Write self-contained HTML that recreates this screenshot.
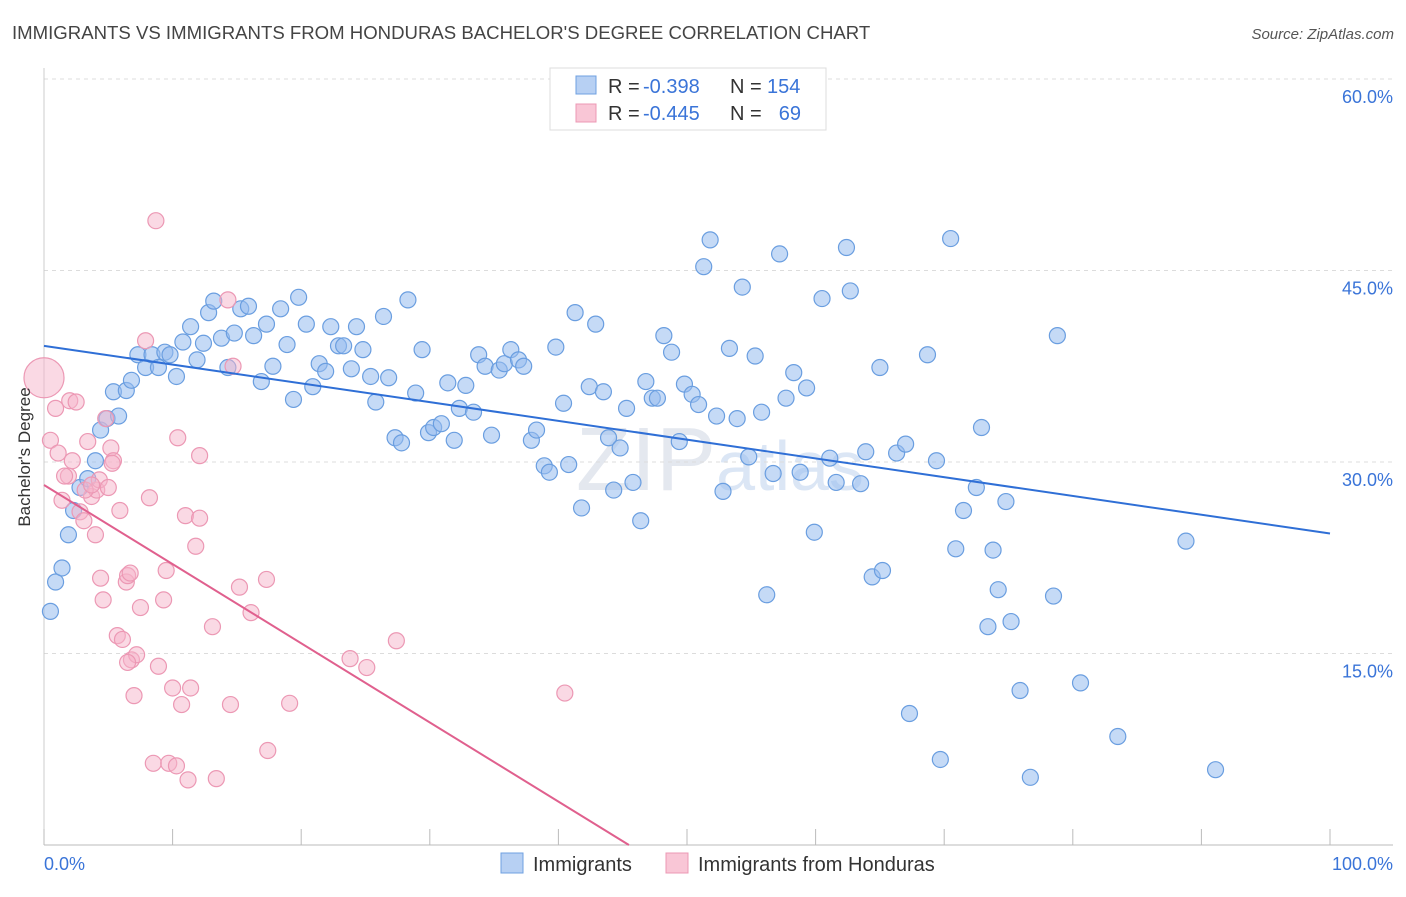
<!DOCTYPE html>
<html><head><meta charset="utf-8"><style>
body{margin:0;background:#fff;font-family:"Liberation Sans",sans-serif;}
svg text{font-family:"Liberation Sans",sans-serif;}
</style></head><body>
<svg id="chart" width="1406" height="892" viewBox="0 0 1406 892" xmlns="http://www.w3.org/2000/svg">
<text x="12" y="39" font-size="18.6" fill="#444">IMMIGRANTS VS IMMIGRANTS FROM HONDURAS BACHELOR'S DEGREE CORRELATION CHART</text>
<text x="1394" y="39" font-size="15" fill="#555" text-anchor="end" font-style="italic">Source: ZipAtlas.com</text>
<text x="720" y="490" font-size="90" fill="#e4e8ef" text-anchor="middle" font-family="Liberation Serif">ZIP<tspan font-family="Liberation Sans" font-size="70" fill="#dbe6f5">atlas</tspan></text>
<g id="grid"></g>
<g id="axes"></g>
<g id="pts"></g>
<g id="trends"></g>
<text transform="translate(30,457) rotate(-90)" font-size="17" fill="#333" text-anchor="middle">Bachelor's Degree</text>
<g>
<rect x="550" y="68" width="276" height="62" fill="#fff" stroke="#ddd"/>
<rect x="576" y="76" width="20" height="18" fill="#b7d0f3" stroke="#6fa0e0"/>
<rect x="576" y="104" width="20" height="18" fill="#f9c6d6" stroke="#ec98b4"/>
<text x="608" y="93" font-size="20" fill="#333">R =</text>
<text x="643" y="93" font-size="20" fill="#3a74d8">-0.398</text>
<text x="730" y="93" font-size="20" fill="#333">N =</text>
<text x="767" y="93" font-size="20" fill="#3a74d8">154</text>
<text x="608" y="120" font-size="20" fill="#333">R =</text>
<text x="643" y="120" font-size="20" fill="#3a74d8">-0.445</text>
<text x="730" y="120" font-size="20" fill="#333">N =</text>
<text x="801" y="120" font-size="20" fill="#3a74d8" text-anchor="end">69</text>
</g>
<g>
<rect x="501" y="853" width="22" height="20" fill="#b7d0f3" stroke="#6fa0e0"/>
<text x="533" y="871" font-size="20" fill="#333">Immigrants</text>
<rect x="666" y="853" width="22" height="20" fill="#f9c6d6" stroke="#ec98b4"/>
<text x="698" y="871" font-size="20" fill="#333">Immigrants from Honduras</text>
</g>
</svg>
<script>
const blueX=[0.5,0.9,1.4,1.9,2.3,2.8,3.4,4.0,4.4,4.9,5.4,5.8,6.4,6.8,7.3,7.9,8.4,8.9,9.4,9.8,10.3,10.8,11.4,11.9,12.4,12.8,13.2,13.8,14.3,14.8,15.3,15.9,16.3,16.9,17.3,17.8,18.4,18.9,19.4,19.8,20.4,20.9,21.4,21.9,22.3,22.9,23.3,23.9,24.3,24.8,25.4,25.8,26.4,26.8,27.3,27.8,28.3,28.9,29.4,29.9,30.3,30.9,31.4,31.9,32.3,32.8,33.4,33.8,34.3,34.8,35.4,35.8,36.3,36.9,37.3,37.9,38.3,38.9,39.3,39.8,40.4,40.8,41.3,41.8,42.4,42.9,43.5,43.9,44.3,44.8,45.3,45.8,46.4,46.8,47.3,47.7,48.2,48.8,49.4,49.8,50.4,50.9,51.3,51.8,52.3,52.8,53.3,53.9,54.3,54.8,55.3,55.8,56.2,56.7,57.2,57.7,58.3,58.8,59.3,59.9,60.5,61.1,61.6,62.4,62.7,63.5,63.9,64.4,65.0,65.2,66.3,67.0,67.3,68.7,69.4,69.7,70.5,70.9,71.5,72.5,72.9,73.4,73.8,74.2,74.8,75.2,75.9,76.7,78.5,78.8,80.6,83.5,88.8,91.1];
const blueY=[18.3,20.6,21.7,24.3,26.2,28.0,28.7,30.1,32.5,33.4,35.5,33.6,35.6,36.4,38.4,37.4,38.4,37.4,38.6,38.4,36.7,39.4,40.6,38.0,39.3,41.7,42.6,39.7,37.4,40.1,42.0,42.2,39.9,36.3,40.8,37.5,42.0,39.2,34.9,42.9,40.8,35.9,37.7,37.1,40.6,39.1,39.1,37.3,40.6,38.8,36.7,34.7,41.4,36.6,31.9,31.5,42.7,35.4,38.8,32.3,32.7,33.0,36.2,31.7,34.2,36.0,33.9,38.4,37.5,32.1,37.2,37.7,38.8,38.0,37.5,31.7,32.5,29.7,29.2,39.0,34.6,29.8,41.7,26.4,35.9,40.8,35.5,31.9,27.8,31.1,34.2,28.4,25.4,36.3,35.0,35.0,39.9,38.6,31.6,36.1,35.3,34.5,45.3,47.4,33.6,27.7,38.9,33.4,43.7,30.4,38.3,33.9,19.6,29.1,46.3,35.0,37.0,29.2,35.8,24.5,42.8,30.3,28.4,46.8,43.4,28.3,30.8,21.0,37.4,21.5,30.7,31.4,10.3,38.4,30.1,6.7,47.5,23.2,26.2,28.0,32.7,17.1,23.1,20.0,26.9,17.5,12.1,5.3,19.5,39.9,12.7,8.5,23.8,5.9];
const pinkX=[0.0,0.5,0.9,1.1,1.4,1.9,2.0,2.2,2.5,2.8,3.1,3.4,3.7,4.0,4.1,4.3,4.4,4.6,4.8,5.0,5.2,5.4,5.7,5.9,6.1,6.4,6.5,6.8,7.0,7.2,7.5,7.9,8.2,8.5,8.7,8.9,9.3,9.5,9.7,10.0,10.3,10.4,10.7,11.0,11.2,11.4,11.8,12.1,12.1,13.1,13.4,14.3,14.5,14.7,15.2,16.1,17.3,17.4,19.1,23.8,25.1,27.4,40.5,3.2,3.7,5.3,1.6,6.7,6.5];
const pinkY=[36.6,31.7,34.2,30.7,27.0,28.9,34.8,30.1,34.7,26.1,25.4,31.6,27.3,24.3,27.8,28.6,20.9,19.2,33.4,28.0,31.1,30.1,16.4,26.2,16.1,20.6,21.1,14.5,11.7,14.9,18.6,39.5,27.2,6.4,48.9,14.0,19.2,21.5,6.4,12.3,6.2,31.9,11.0,25.8,5.1,12.3,23.4,30.5,25.6,17.1,5.2,42.7,11.0,37.5,20.2,18.2,20.8,7.4,11.1,14.6,13.9,16.0,11.9,27.8,28.2,29.9,28.9,21.3,14.3];
const pinkBig=[0];
const blueTrend=[39.1,24.4];
const pinkTrend=[28.2,-0.62];
const yTicks=[15,30,45,60];
const yTickLabels=["15.0%","30.0%","45.0%","60.0%"];
const xTicks=[0,10,20,30,40,50,60,70,80,90,100];

const NS="http://www.w3.org/2000/svg";
const X0=44,X1=1330,Y0=845,Y60=79;
function sx(v){return X0+(X1-X0)*v/100;}
function sy(v){return Y0-(Y0-Y60)*v/60;}
function mk(tag,attrs,parent){const e=document.createElementNS(NS,tag);for(const k in attrs)e.setAttribute(k,attrs[k]);parent.appendChild(e);return e;}
const grid=document.getElementById('grid'),axes=document.getElementById('axes'),pts=document.getElementById('pts'),tr=document.getElementById('trends');
yTicks.forEach((t,i)=>{
 const l=mk('line',{x1:X0,x2:1393,y1:sy(t),y2:sy(t),stroke:'#dcdcdc','stroke-dasharray':'4,4'},grid);
 
 
 const tx=mk('text',{x:1393,y:sy(t)+24,'font-size':18,fill:'#3a74d8','text-anchor':'end'},axes);
 tx.textContent=yTickLabels[i];
 
 
});
const xa=mk('line',{x1:X0,x2:1393,y1:Y0,y2:Y0,stroke:'#bbb'},axes);


const ya=mk('line',{x1:X0,x2:X0,y1:68,y2:Y0,stroke:'#ccc'},axes);


xTicks.forEach(t=>{
 const l=mk('line',{x1:sx(t),x2:sx(t),y1:Y0,y2:Y0-16,stroke:'#bbb'},axes);
 
 
});
const xl0=mk('text',{x:44,y:870,'font-size':18,fill:'#3a74d8'},axes);xl0.textContent='0.0%';


const xl1=mk('text',{x:1393,y:870,'font-size':18,fill:'#3a74d8','text-anchor':'end'},axes);xl1.textContent='100.0%';


blueX.forEach((x,i)=>{
 const c=mk('circle',{cx:sx(x),cy:sy(blueY[i]),r:8,fill:'rgba(150,188,238,0.55)',stroke:'#6a9ee0','stroke-width':1.2},pts);
 
 
});
pinkX.forEach((x,i)=>{
 const c=mk('circle',{cx:sx(x),cy:sy(pinkY[i]),r:pinkBig.includes(i)?20:8,fill:'rgba(246,180,202,0.5)',stroke:'#ec98b4','stroke-width':1.2},pts);
 
 
});
const bl=mk('line',{x1:sx(0),y1:sy(blueTrend[0]),x2:sx(100),y2:sy(blueTrend[1]),stroke:'#2f6fd6','stroke-width':2},tr);


const xEnd=-pinkTrend[0]/pinkTrend[1];
const pl=mk('line',{x1:sx(0),y1:sy(pinkTrend[0]),x2:sx(xEnd),y2:sy(0),stroke:'#e0608e','stroke-width':2},tr);


</script>
</body></html>
